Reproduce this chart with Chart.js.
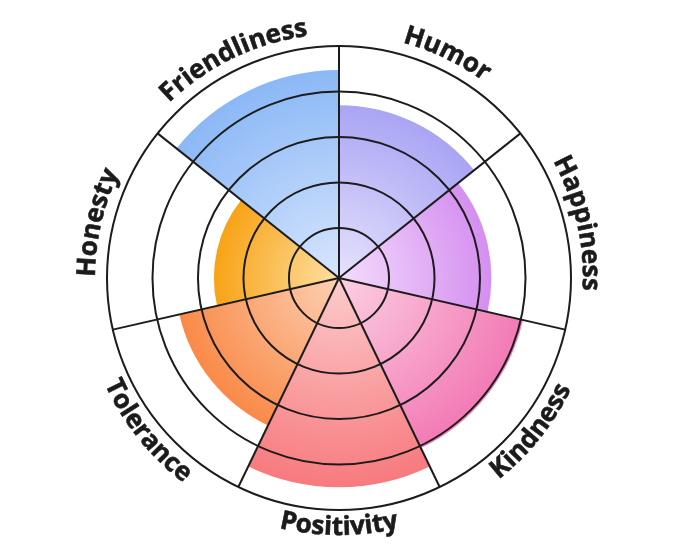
<!DOCTYPE html>
<html><head><meta charset="utf-8">
<script src="https://cdn.jsdelivr.net/npm/chart.js@4/dist/chart.umd.min.js"></script>
<style>html,body{margin:0;padding:0;background:#fff;} #wrap{width:680px;height:557px;}</style>
</head><body><div id="wrap"><canvas id="c" width="680" height="557"></canvas></div>
<script>
const categories = ['Humor','Happiness','Kindness','Positivity','Tolerance','Honesty','Friendliness'];
const values = [3.7, 3.25, 4.05, 4.5, 3.5, 2.65, 4.47];
const ringTicks = [1, 2, 3, 4, 5];
const outerColors = ['#a9a5f4','#d58ff0','#f27ab5','#f77a7e','#f98a48','#f8a316','#8bb8f6'];
const innerColors = ['#e6e2fd','#f3dcfc','#fcd0e2','#fccccc','#fdd0b4','#fde0a4','#d8e6fd'];

const curvedLabels = {
  id: 'curvedLabels',
  afterDraw(chart) {
    const s = chart.scales.r, ctx = chart.ctx;
    const n = categories.length, step = 2 * Math.PI / n;
    const outer = s.drawingArea;
    ctx.save();
    ctx.font = 'bold 26px "Open Sans"';
    ctx.fillStyle = '#1b1b1b';
    ctx.strokeStyle = '#1b1b1b';
    ctx.lineWidth = 0.6;
    ctx.textAlign = 'center';
    ctx.textBaseline = 'alphabetic';
    categories.forEach((lab, i) => {
      const mid = -Math.PI / 2 + step * (i + 0.5);
      const m = ((mid % (2 * Math.PI)) + 2 * Math.PI) % (2 * Math.PI);
      const bottom = m > 0.05 && m < Math.PI - 0.05;
      const chars = [...lab];
      const widths = chars.map(ch => ctx.measureText(ch).width);
      const total = ctx.measureText(lab).width;
      const sumW = widths.reduce((a, b) => a + b, 0);
      const k = total / sumW;
      const r = bottom ? outer + 25 : outer + 12;
      const dir = bottom ? -1 : 1;
      let acc = 0;
      chars.forEach((ch, j) => {
        const w = widths[j] * k;
        const a = mid + dir * ((acc + w / 2) - total / 2) / r;
        acc += w;
        ctx.save();
        ctx.translate(s.xCenter + r * Math.cos(a), s.yCenter + r * Math.sin(a));
        ctx.rotate(a + dir * Math.PI / 2);
        ctx.fillText(ch, 0, 0);
        ctx.strokeText(ch, 0, 0);
        ctx.restore();
      });
    });
    ctx.restore();
  }
};

function segGradient(c) {
  const chart = c.chart, s = chart.scales && chart.scales.r;
  const i = c.dataIndex;
  if (!s || s.xCenter === undefined || !isFinite(s.drawingArea)) return outerColors[i];
  const r = Math.max(s.getDistanceFromCenterForValue(values[i]), 1);
  const g = chart.ctx.createRadialGradient(s.xCenter, s.yCenter, 0, s.xCenter, s.yCenter, r);
  g.addColorStop(0, innerColors[i]);
  g.addColorStop(1, outerColors[i]);
  return g;
}

new Chart(document.getElementById('c'), {
  type: 'polarArea',
  data: {
    labels: categories,
    datasets: [{ data: values, backgroundColor: segGradient, borderWidth: 0 }]
  },
  options: {
    responsive: false,
    animation: false,
    layout: { padding: { left: 0, right: 2, top: 46, bottom: 47 } },
    plugins: { legend: { display: false }, tooltip: { enabled: false } },
    scales: {
      r: {
        min: -0.1,
        max: 5,
        afterBuildTicks: sc => { sc.ticks = ringTicks.map(v => ({ value: v })); },
        ticks: { display: false },
        grid: { display: true, circular: true, color: '#1c1c1c', lineWidth: 2, z: 1 },
        angleLines: { display: true, color: '#1c1c1c', lineWidth: 2 },
        pointLabels: { display: false }
      }
    }
  },
  plugins: [curvedLabels]
});
</script>
</body></html>
